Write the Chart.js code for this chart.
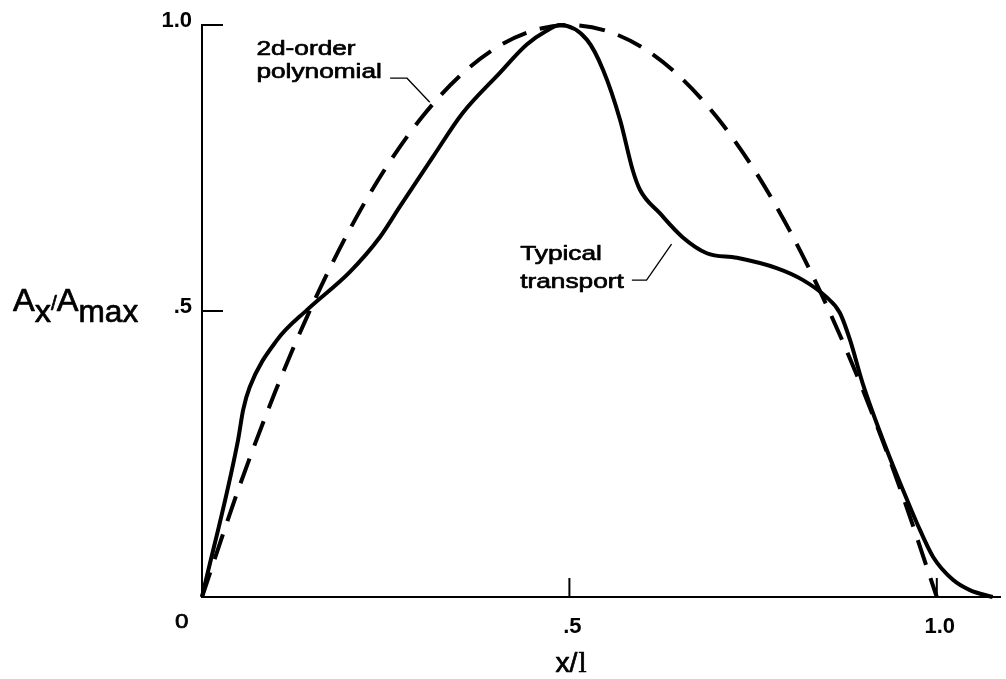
<!DOCTYPE html>
<html>
<head>
<meta charset="utf-8">
<script src="https://cdn.jsdelivr.net/npm/chart.js@4.4.1/dist/chart.umd.min.js"></script>
<style>
html,body{margin:0;padding:0;background:#fff;}
#wrap{width:1006px;height:679px;position:relative;}
</style>
</head>
<body>
<div id="wrap"><canvas id="c" width="1006" height="679"></canvas></div>
<script>
// Typical transport curve (x/l, Ax/Amax)
const transportX = [0, 0.049, 0.056, 0.065, 0.102, 0.143, 0.201, 0.242, 0.269, 0.314, 0.354, 0.405, 0.442, 0.469, 0.487, 0.524, 0.546, 0.569, 0.586, 0.596, 0.623, 0.654, 0.687, 0.728, 0.782, 0.818, 0.850, 0.868, 0.882, 0.899, 0.932, 0.954, 0.973, 0.995, 1.022, 1.045, 1.076];
const transportY = [0, 0.274, 0.327, 0.367, 0.449, 0.502, 0.568, 0.629, 0.682, 0.769, 0.845, 0.916, 0.966, 0.990, 1.0, 0.974, 0.921, 0.834, 0.747, 0.712, 0.671, 0.629, 0.601, 0.593, 0.575, 0.554, 0.524, 0.497, 0.449, 0.374, 0.257, 0.187, 0.129, 0.070, 0.030, 0.012, 0.0];
// 2d-order polynomial curve
const polyX = [0, 0.05, 0.10, 0.15, 0.20, 0.25, 0.30, 0.35, 0.40, 0.45, 0.50, 0.55, 0.60, 0.65, 0.70, 0.75, 0.80, 0.85, 0.90, 0.95, 1.0];
const polyY = [0, 0.19, 0.36, 0.51, 0.64, 0.75, 0.84, 0.91, 0.96, 0.99, 1.0, 0.99, 0.96, 0.91, 0.84, 0.75, 0.64, 0.51, 0.36, 0.19, 0];
// tick values and labels
const xTickValues = [0, 0.5, 1.0];
const xTickLabels = ['', '.5', '1.0'];
const yTickValues = [0, 0.5, 1.0];
const yTickLabels = ['', '.5', '1.0'];

const transportData = transportX.map((x, i) => ({x, y: transportY[i]}));
const polyData = polyX.map((x, i) => ({x, y: polyY[i]}));

const SANS = '"Liberation Sans", Arial, Helvetica, sans-serif';
const SERIF = '"Liberation Serif", "Times New Roman", serif';

function wideText(ctx, text, x, y, sx) {
  ctx.save();
  ctx.translate(x, y);
  ctx.scale(sx, 1);
  ctx.lineWidth = 0.7;
  ctx.lineJoin = 'round';
  ctx.fillText(text, 0, 0);
  ctx.strokeText(text, 0, 0);
  ctx.restore();
  return ctx.measureText(text).width * sx;
}

const decor = {
  id: 'decor',
  afterDraw(chart) {
    const {ctx, scales: {x, y}} = chart;
    const px = v => x.getPixelForValue(v);
    const py = v => y.getPixelForValue(v);
    ctx.save();
    ctx.strokeStyle = '#000';
    ctx.fillStyle = '#000';
    // inside tick marks
    ctx.lineWidth = 2;
    [0.5, 1.0].forEach(v => {
      ctx.beginPath();
      ctx.moveTo(px(0), py(v));
      ctx.lineTo(px(0) + 21, py(v));
      ctx.stroke();
      ctx.beginPath();
      ctx.moveTo(px(v), py(0));
      ctx.lineTo(px(v), py(0) - 19);
      ctx.stroke();
    });
    // origin label
    ctx.font = '21px ' + SANS;
    ctx.textAlign = 'left';
    ctx.textBaseline = 'alphabetic';
    wideText(ctx, '0', px(0) - 27, py(0) + 31, 1.15);

    // y title A_x / A_max
    let tx = 13, base = 311;
    ctx.font = '31px ' + SANS;
    tx += wideText(ctx, 'A', tx, base, 1.05);
    tx += wideText(ctx, 'x', tx, base + 11, 1.05);
    ctx.font = '20px ' + SANS;
    tx += wideText(ctx, '/', tx, base - 1, 1.05);
    ctx.font = '31px ' + SANS;
    tx += wideText(ctx, 'A', tx, base, 1.05);
    wideText(ctx, 'max', tx, base + 11, 1.02);

    // x title x/l
    const xt = px(0.5) - 14;
    ctx.font = '27px ' + SANS;
    const w1 = wideText(ctx, 'x/', xt, 672, 1.05);
    ctx.font = '29px ' + SERIF;
    wideText(ctx, 'l', xt + w1 + 1, 672, 1.0);

    // annotations
    ctx.font = '21px ' + SANS;
    wideText(ctx, '2d-order', px(0.074), py(0.947), 1.25);
    wideText(ctx, 'polynomial', px(0.074), py(0.907), 1.25);
    wideText(ctx, 'Typical', px(0.433), py(0.590), 1.25);
    wideText(ctx, 'transport', px(0.433), py(0.540), 1.25);
    ctx.lineWidth = 1.3;
    ctx.beginPath();
    ctx.moveTo(px(0.256), py(0.907));
    ctx.lineTo(px(0.279), py(0.907));
    ctx.lineTo(px(0.310), py(0.865));
    ctx.stroke();
    ctx.beginPath();
    ctx.moveTo(px(0.585), py(0.554));
    ctx.lineTo(px(0.605), py(0.554));
    ctx.lineTo(px(0.639), py(0.617));
    ctx.stroke();
    ctx.restore();
  }
};

new Chart(document.getElementById('c'), {
  type: 'line',
  data: {
    datasets: [
      {
        label: 'Typical transport',
        data: transportData,
        borderColor: '#000',
        borderWidth: 4,
        pointRadius: 0,
        fill: false,
        cubicInterpolationMode: 'monotone',
        clip: 10
      },
      {
        label: '2d-order polynomial',
        data: polyData,
        borderColor: '#000',
        borderWidth: 4,
        borderDash: [26, 14],
        pointRadius: 0,
        fill: false,
        cubicInterpolationMode: 'monotone',
        clip: 10
      }
    ]
  },
  options: {
    responsive: false,
    animation: false,
    devicePixelRatio: 1,
    layout: {padding: {left: 0, top: 25, right: 6, bottom: 0}},
    plugins: {legend: {display: false}, tooltip: {enabled: false}},
    scales: {
      x: {
        type: 'linear',
        min: 0,
        max: 1.086,
        afterFit: s => { s.height = 82; },
        afterBuildTicks: s => { s.ticks = xTickValues.map(v => ({value: v})); },
        grid: {display: false, drawTicks: false},
        border: {display: true, color: '#000', width: 2},
        ticks: {
          color: '#000',
          font: {family: SANS, size: 22, weight: 'bold'},
          padding: 17,
          labelOffset: 3,
          maxRotation: 0,
          autoSkip: false,
          callback: (v) => { const i = xTickValues.indexOf(v); return i >= 0 ? xTickLabels[i] : ''; }
        }
      },
      y: {
        type: 'linear',
        min: 0,
        max: 1.0,
        afterFit: s => { s.width = 202; },
        afterBuildTicks: s => { s.ticks = yTickValues.map(v => ({value: v})); },
        grid: {display: false, drawTicks: false},
        border: {display: true, color: '#000', width: 2},
        ticks: {
          color: '#000',
          font: {family: SANS, size: 22, weight: 'bold'},
          padding: 10,
          labelOffset: -4,
          autoSkip: false,
          callback: (v) => { const i = yTickValues.indexOf(v); return i >= 0 ? yTickLabels[i] : ''; }
        }
      }
    }
  },
  plugins: [decor]
});
</script>
</body>
</html>
